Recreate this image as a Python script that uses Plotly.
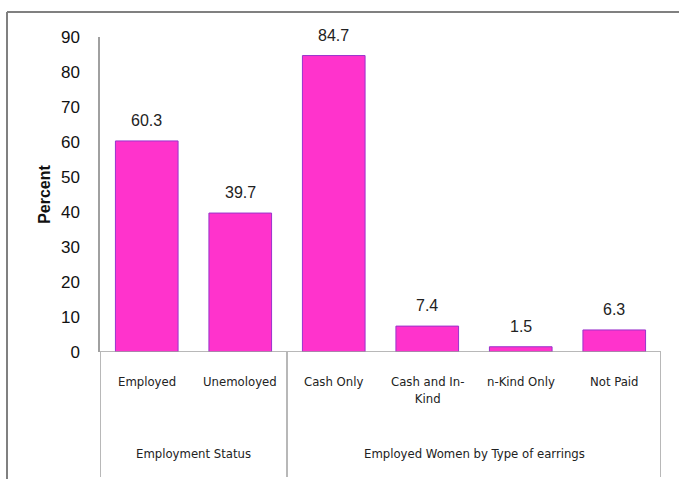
import plotly.graph_objects as go

# Chart data
categories = ["Employed", "Unemoloyed", "Cash Only", "Cash and In-<br>Kind", "n-Kind Only", "Not Paid"]
values = [60.3, 39.7, 84.7, 7.4, 1.5, 6.3]
groups = ["Employment Status", "Employed Women by Type of earrings"]
group_sizes = [2, 4]
y_ticks = [0, 10, 20, 30, 40, 50, 60, 70, 80, 90]

W, H = 679, 479
L, R, T, B = 100, 18, 37, 127
pw, ph = W - L - R, H - T - B

LABEL_FONT = "DejaVu Sans Condensed, Liberation Sans, Arial"

def px_x(p):
    return (p - L) / pw

def px_y(p):
    return (H - B - p) / ph

x_pos = list(range(len(categories)))

fig = go.Figure()
fig.add_trace(go.Bar(
    x=x_pos, y=values, width=0.67,
    marker=dict(color="#FF33CC", line=dict(color="#9933CC", width=1)),
    hoverinfo="skip",
))

annotations = []
# value labels above the bars
for x, v in zip(x_pos, values):
    annotations.append(dict(x=x, y=v, xref="x", yref="y", text=f"{v}", showarrow=False,
                            yanchor="bottom", yshift=10,
                            font=dict(family="Liberation Sans, Arial", size=16, color="#222222")))
# category labels
for x, c in zip(x_pos, categories):
    annotations.append(dict(x=x, y=px_y(372), xref="x", yref="paper", text=c, showarrow=False,
                            yanchor="top", align="center",
                            font=dict(family=LABEL_FONT, size=13, color="#222222")))
# group labels and dividers
shapes = []
start = 0
bounds = [-0.5]
for g, n in zip(groups, group_sizes):
    center = start + (n - 1) / 2
    annotations.append(dict(x=center, y=px_y(453), xref="x", yref="paper", text=g, showarrow=False,
                            yanchor="middle",
                            font=dict(family=LABEL_FONT, size=13, color="#222222")))
    start += n
    bounds.append(start - 0.5)
for b in bounds:
    shapes.append(dict(type="line", xref="x", yref="paper", x0=b, x1=b, y0=0, y1=px_y(477),
                       line=dict(color="#A0A0A0", width=1.5)))
# baseline
shapes.append(dict(type="line", xref="paper", yref="y", x0=0, x1=1, y0=0, y1=0,
                   line=dict(color="#A0A0A0", width=1.5)))
# outer frame lines
shapes.append(dict(type="line", xref="paper", yref="paper", x0=px_x(7), x1=px_x(679),
                   y0=px_y(12), y1=px_y(12), line=dict(color="#808080", width=2)))
shapes.append(dict(type="line", xref="paper", yref="paper", x0=px_x(7), x1=px_x(7),
                   y0=px_y(12), y1=px_y(479), line=dict(color="#808080", width=2)))

fig.update_layout(
    width=W, height=H,
    margin=dict(l=L, r=R, t=T, b=B),
    plot_bgcolor="white", paper_bgcolor="white",
    showlegend=False,
    xaxis=dict(range=[-0.5, 5.5], showticklabels=False, showgrid=False, zeroline=False,
               showline=False, ticks=""),
    yaxis=dict(range=[0, 90], tickvals=y_ticks, showgrid=False, zeroline=False,
               showline=True, linecolor="#A0A0A0", linewidth=1.5, ticks="",
               ticklabelstandoff=15,
               tickfont=dict(family="Liberation Sans, Arial", size=17, color="#111111"),
               title=dict(text="<b>Percent</b>", standoff=6,
                          font=dict(family="Liberation Sans, Arial", size=16, color="#111111"))),
    annotations=annotations,
    shapes=shapes,
)

fig.write_html("out.html")
